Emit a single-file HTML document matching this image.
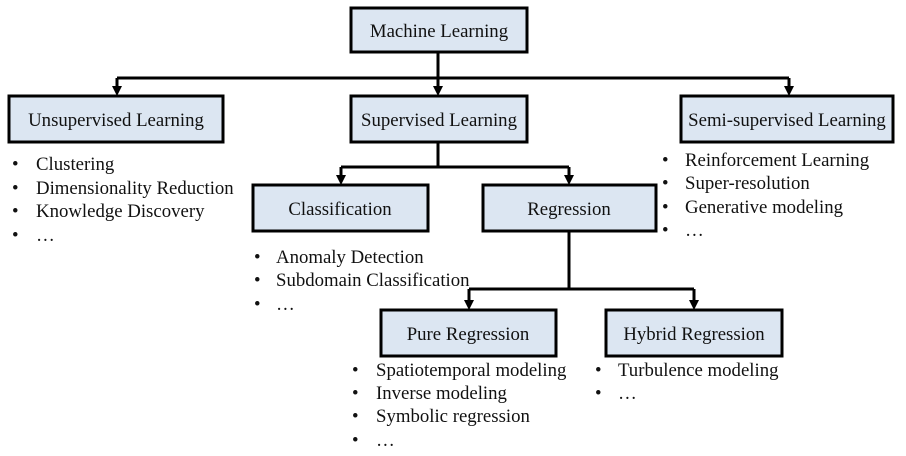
<!DOCTYPE html>
<html><head><meta charset="utf-8"><style>
body{margin:0;background:#fff}
svg text{font-family:"Liberation Serif",serif;font-size:18.8px;fill:#111}
</style></head><body>
<svg width="906" height="451" viewBox="0 0 906 451" xmlns="http://www.w3.org/2000/svg">
<g stroke="#000" stroke-width="3" fill="none">
<path d="M438,52 V78"/><path d="M117,78 H789"/>
<path d="M117,78 V88"/><path d="M438,78 V88"/><path d="M789,78 V88"/>
<path d="M438,142 V167"/><path d="M341,167 H569"/>
<path d="M341,167 V177"/><path d="M569,167 V177"/>
<path d="M569,231 V289"/><path d="M469,289 H694"/>
<path d="M469,289 V301"/><path d="M694,289 V301"/>
</g>
<g fill="#000">
<path d="M112,86 H122 L117,96 Z"/><path d="M433,86 H443 L438,96 Z"/><path d="M784,86 H794 L789,96 Z"/>
<path d="M336,175 H346 L341,185 Z"/><path d="M564,175 H574 L569,185 Z"/>
<path d="M464,300 H474 L469,310 Z"/><path d="M689,300 H699 L694,310 Z"/>
</g>
<g fill="#dce6f2" stroke="#000" stroke-width="3">
<rect x="351" y="8" width="176" height="44"/>
<rect x="9" y="96" width="214" height="46"/>
<rect x="351" y="96" width="176" height="46"/>
<rect x="681" y="96" width="212" height="46"/>
<rect x="253" y="185" width="175" height="46"/>
<rect x="483" y="185" width="173" height="46"/>
<rect x="381" y="310" width="175" height="46"/>
<rect x="606" y="310" width="176" height="46"/>
</g>
<g text-anchor="middle">
<text x="439" y="37">Machine Learning</text>
<text x="116" y="126">Unsupervised Learning</text>
<text x="439" y="126">Supervised Learning</text>
<text x="787" y="126">Semi-supervised Learning</text>
<text x="340" y="215">Classification</text>
<text x="569" y="215">Regression</text>
<text x="468" y="340">Pure Regression</text>
<text x="694" y="340">Hybrid Regression</text>
</g>
<g>
<text x="12" y="170">•</text><text x="36" y="170">Clustering</text>
<text x="12" y="194">•</text><text x="36" y="194">Dimensionality Reduction</text>
<text x="12" y="217">•</text><text x="36" y="217">Knowledge Discovery</text>
<text x="12" y="241">•</text><text x="36" y="241">…</text>
<text x="662" y="166">•</text><text x="685" y="166">Reinforcement Learning</text>
<text x="662" y="189">•</text><text x="685" y="189">Super-resolution</text>
<text x="662" y="213">•</text><text x="685" y="213">Generative modeling</text>
<text x="662" y="236">•</text><text x="685" y="236">…</text>
<text x="254" y="263">•</text><text x="276" y="263">Anomaly Detection</text>
<text x="254" y="286">•</text><text x="276" y="286">Subdomain Classification</text>
<text x="254" y="310">•</text><text x="276" y="310">…</text>
<text x="352" y="376">•</text><text x="376" y="376">Spatiotemporal modeling</text>
<text x="352" y="399">•</text><text x="376" y="399">Inverse modeling</text>
<text x="352" y="422">•</text><text x="376" y="422">Symbolic regression</text>
<text x="352" y="446">•</text><text x="376" y="446">…</text>
<text x="595" y="376">•</text><text x="618" y="376">Turbulence modeling</text>
<text x="595" y="399">•</text><text x="618" y="399">…</text>
</g>
</svg>
</body></html>
